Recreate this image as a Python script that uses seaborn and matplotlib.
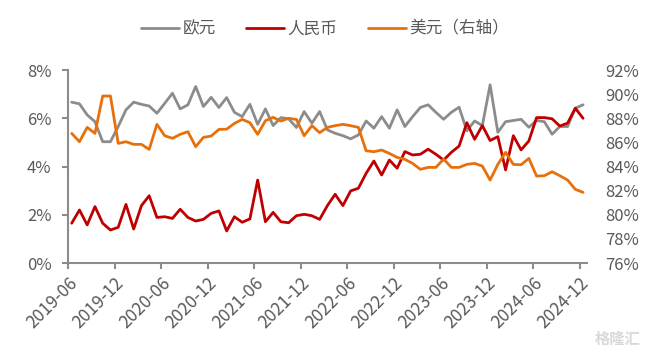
import numpy as np
import pandas as pd
import matplotlib
matplotlib.use("Agg")
import matplotlib.pyplot as plt
import seaborn as sns

# monthly, 2019-06 .. 2024-12
months = pd.period_range("2019-06", "2024-12", freq="M").strftime("%Y-%m").tolist()
tick_labels = ["2019-06", "2019-12", "2020-06", "2020-12", "2021-06", "2021-12",
               "2022-06", "2022-12", "2023-06", "2023-12", "2024-06", "2024-12"]

eur = [6.67, 6.60, 6.14, 5.86, 5.03, 5.03, 5.66, 6.35, 6.67, 6.58,
       6.51, 6.21, 6.62, 7.04, 6.39, 6.56, 7.32, 6.49, 6.87, 6.45,
       6.86, 6.25, 6.07, 6.58, 5.75, 6.39, 5.70, 6.03, 5.98, 5.62,
       6.28, 5.80, 6.28, 5.52, 5.38, 5.28, 5.15, 5.31, 5.89, 5.59,
       6.07, 5.59, 6.35, 5.66, 6.07, 6.45, 6.56, 6.25, 5.96, 6.25,
       6.46, 5.48, 5.89, 5.70, 7.39, 5.42, 5.86, 5.91, 5.96, 5.63,
       5.91, 5.86, 5.34, 5.66, 5.66, 6.42, 6.56]

cny = [1.65, 2.20, 1.58, 2.34, 1.65, 1.37, 1.48, 2.43, 1.41, 2.38,
       2.79, 1.89, 1.92, 1.85, 2.23, 1.89, 1.74, 1.81, 2.06, 2.16,
       1.33, 1.92, 1.69, 1.83, 3.44, 1.71, 2.10, 1.71, 1.67, 1.96,
       2.02, 1.96, 1.81, 2.38, 2.85, 2.38, 2.99, 3.10, 3.72, 4.23,
       3.65, 4.27, 3.93, 4.62, 4.48, 4.51, 4.72, 4.51, 4.27, 4.59,
       4.85, 5.82, 5.13, 5.70, 5.08, 5.24, 3.86, 5.28, 4.69, 5.06,
       6.03, 6.03, 5.98, 5.68, 5.80, 6.42, 6.00]

usd = [86.75, 86.06, 87.25, 86.75, 89.85, 89.85, 85.92, 86.06, 85.84, 85.84,
       85.42, 87.50, 86.56, 86.34, 86.67, 86.89, 85.65, 86.42, 86.53, 87.08,
       87.10, 87.58, 87.91, 87.64, 86.67, 87.80, 88.08, 87.77, 88.00, 87.91,
       86.56, 87.39, 86.81, 87.25, 87.39, 87.50, 87.39, 87.25, 85.31, 85.23,
       85.37, 85.09, 84.76, 84.60, 84.26, 83.77, 83.93, 83.93, 84.62, 83.93,
       83.93, 84.18, 84.26, 84.04, 82.88, 84.18, 85.18, 84.18, 84.15, 84.68,
       83.21, 83.24, 83.57, 83.24, 82.88, 82.11, 81.86]

GRAY = "#8C8C8C"
RED = "#C00000"
ORANGE = "#E8700A"
TXT = "#595959"


def main():
    sns.set_style("white")
    plt.rcParams["font.family"] = ["Noto Sans CJK SC", "DejaVu Sans"]

    df = pd.DataFrame({"x": np.arange(len(months)), "eur": eur, "cny": cny, "usd": usd})

    fig, ax = plt.subplots(figsize=(6.5, 3.54), dpi=100)
    fig.subplots_adjust(left=0.1046, right=0.903, top=0.802, bottom=0.257)
    ax2 = ax.twinx()

    sns.lineplot(data=df, x="x", y="eur", ax=ax, color=GRAY, lw=2, label="欧元", legend=False)
    sns.lineplot(data=df, x="x", y="cny", ax=ax, color=RED, lw=2, label="人民币", legend=False)
    sns.lineplot(data=df, x="x", y="usd", ax=ax2, color=ORANGE, lw=2, label="美元（右轴）", legend=False)

    ax.set_xlim(-0.48, 66.5)
    ax.set_ylim(0, 8)
    ax2.set_ylim(76, 92)
    ax.set_yticks([0, 2, 4, 6, 8])
    ax.set_yticklabels([f"{v}%" for v in [0, 2, 4, 6, 8]])
    ax2.set_yticks(range(76, 93, 2))
    ax2.set_yticklabels([f"{v}%" for v in range(76, 93, 2)])

    ax.set_xticks(np.arange(0, 67, 6) - 0.45)
    ax.set_xticklabels(tick_labels, rotation=45, ha="right", rotation_mode="anchor")

    for a in (ax, ax2):
        a.set_xlabel("")
        a.set_ylabel("")
        for s in a.spines.values():
            s.set_visible(False)
    ax.spines["left"].set_visible(True)
    ax.spines["bottom"].set_visible(True)
    ax.spines["left"].set_color(GRAY)
    ax.spines["bottom"].set_color(GRAY)
    ax.spines["left"].set_linewidth(1.5)
    ax.spines["bottom"].set_linewidth(1.5)

    ax.tick_params(axis="y", direction="out", length=4, width=1.5, color=GRAY,
                   labelsize=12, labelcolor=TXT, pad=8, left=True)
    ax.tick_params(axis="x", direction="out", length=4, width=1.5, color=GRAY,
                   labelsize=12.5, labelcolor=TXT, pad=4, bottom=True)
    ax2.tick_params(axis="y", length=0, labelsize=12, labelcolor=TXT, pad=13)

    h1, l1 = ax.get_legend_handles_labels()
    h2, l2 = ax2.get_legend_handles_labels()
    fig.legend(h1 + h2, l1 + l2, loc="center", bbox_to_anchor=(0.5, 0.918), ncol=3,
               frameon=False, fontsize=12, labelcolor=TXT, handlelength=2.3,
               handletextpad=0.2, columnspacing=1.8)

    fig.text(0.985, 0.02, "格隆汇", ha="right", va="bottom", fontsize=11,
             color="#D9D9D9", fontweight="bold")

    fig.savefig("out.png", dpi=100)
    plt.close(fig)


if __name__ == "__main__":
    main()
